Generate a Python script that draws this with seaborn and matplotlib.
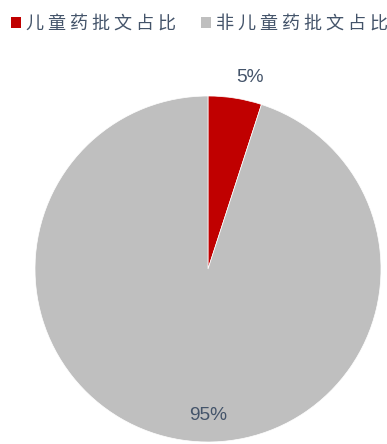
import matplotlib
matplotlib.use("Agg")
import matplotlib.pyplot as plt
import seaborn as sns

# Share of drug approvals: pediatric vs. non-pediatric
categories = ["儿童药批文占比", "非儿童药批文占比"]
shares = [5, 95]
colors = ["#C00000", "#BFBFBF"]
text_color = "#44546A"

sns.set_theme(style="white")
plt.rcParams["font.family"] = ["Noto Sans CJK SC", "DejaVu Sans"]

W, H, DPI = 387, 444, 100
fig = plt.figure(figsize=(W / DPI, H / DPI), dpi=DPI)
fig.patch.set_facecolor("white")

# Pie centred at (208, 269) px with a 173 px radius
cx, cy, r = 208, 269, 173
ax = fig.add_axes([(cx - r) / W, (H - cy - r) / H, 2 * r / W, 2 * r / H])
wedges, _ = ax.pie(
    shares,
    colors=colors,
    startangle=90,
    counterclock=False,
    wedgeprops=dict(edgecolor="white", linewidth=0.5),
)
ax.set_xlim(-1, 1)
ax.set_ylim(-1, 1)
ax.set_aspect("equal")
ax.axis("off")

# Percentage labels
label_pos = [(0.245, 1.105), (0.0, -0.845)]
num_font = ["Liberation Sans Narrow", "Liberation Sans", "DejaVu Sans"]
for val, (x, y) in zip(shares, label_pos):
    ax.text(x, y, f"{val}%", ha="center", va="center", fontsize=13.8,
            color=text_color, family=num_font, clip_on=False)

# Legend across the top, letter-spaced labels
spaced = [" ".join(c) for c in categories]
fs = 13
px_per_em = fs * DPI / 72
leg = fig.legend(
    wedges, spaced,
    loc="upper left",
    bbox_to_anchor=(11 / W, 1 - 15 / H),
    ncol=2,
    frameon=False,
    fontsize=fs,
    handlelength=10 / px_per_em,
    handleheight=10 / px_per_em,
    handletextpad=5 / px_per_em,
    columnspacing=25 / px_per_em,
    borderpad=0,
    borderaxespad=0,
)
for t in leg.get_texts():
    t.set_color(text_color)
for h in leg.legend_handles:
    h.set_linewidth(0)

fig.savefig("out.png", dpi=DPI, facecolor="white")
